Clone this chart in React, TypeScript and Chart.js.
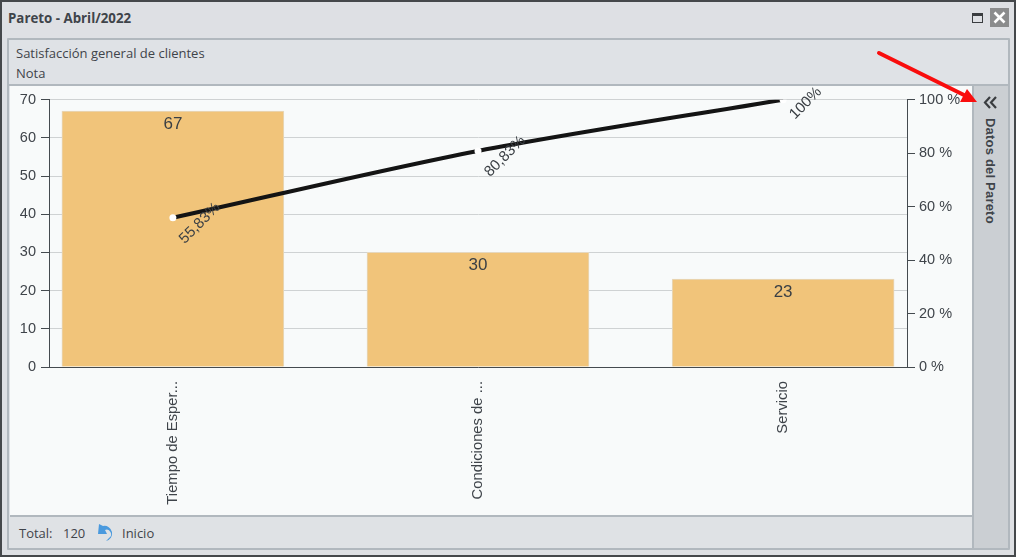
import React, { useEffect, useRef } from "react";
import { Chart, registerables } from "chart.js";

Chart.register(...registerables);

const categories = ["Tiempo de Esper...", "Condiciones de ...", "Servicio"];
const counts = [67, 30, 23];
const cumulative = [55.83, 80.83, 100];
const cumulativeLabels = ["55,83%", "80,83%", "100%"];
const titleText = "Pareto - Abril/2022";
const subtitleText = "Satisfacción general de clientes";
const noteText = "Nota";
const sideText = "Datos del Pareto";
const totalValue = "120";

const AXIS = "#444a4f";
const TEXT = "#3f444a";
const TICK_FONT = { family: "'Liberation Sans', Arial, sans-serif", size: 14.5 };

const labelsPlugin = {
  id: "paretoLabels",
  afterDatasetsDraw(chart: any) {
    const { ctx } = chart;
    ctx.save();
    ctx.fillStyle = "#3a3f44";
    ctx.font = "17px 'Liberation Sans', Arial, sans-serif";
    ctx.textAlign = "center";
    ctx.textBaseline = "middle";
    chart.getDatasetMeta(1).data.forEach((bar: any, i: number) => {
      ctx.fillText(String(counts[i]), bar.x, bar.y + 13);
    });
    ctx.font = "15px 'Liberation Sans', Arial, sans-serif";
    ctx.textAlign = "left";
    chart.getDatasetMeta(0).data.forEach((pt: any, i: number) => {
      const shrink = 56 - ctx.measureText(cumulativeLabels[i]).width;
      ctx.save();
      ctx.translate(pt.x + 9, pt.y + 26 - shrink * 0.5);
      ctx.rotate(-Math.PI / 4);
      ctx.fillText(cumulativeLabels[i], 0, 0);
      ctx.restore();
    });
    ctx.restore();
  },
};

const box = (style: React.CSSProperties): React.CSSProperties => ({ position: "absolute", boxSizing: "border-box", ...style });
const uiFont = "'Open Sans', 'Noto Sans', sans-serif";

export default function App() {
  const ref = useRef<HTMLCanvasElement>(null);

  useEffect(() => {
    const chart = new Chart(ref.current!, {
      type: "bar",
      data: {
        datasets: [
          {
            type: "line",
            data: cumulative.map((y, x) => ({ x, y })),
            yAxisID: "y1",
            borderColor: "#141414",
            borderWidth: 4,
            tension: 0.3,
            pointRadius: 3.5,
            pointBorderWidth: 0,
            pointBackgroundColor: "#ffffff",
            order: 0,
          } as any,
          {
            type: "bar",
            data: counts.map((y, x) => ({ x, y })),
            yAxisID: "y",
            backgroundColor: "#f1c47a",
            borderColor: "#e6d8bf",
            borderWidth: 1,
            barThickness: 222,
            order: 1,
          } as any,
        ],
      },
      options: {
        responsive: false,
        animation: false,
        layout: { padding: { top: 13 } },
        plugins: { legend: { display: false }, tooltip: { enabled: false } },
        scales: {
          x: {
            type: "linear",
            offset: false,
            min: -0.406,
            max: 2.406,
            afterBuildTicks: (s: any) => { s.ticks = categories.map((_, value) => ({ value })); },
            grid: { display: true, offset: false, drawOnChartArea: false, drawTicks: false, color: "transparent" },
            border: { color: AXIS, width: 1 },
            ticks: {
              minRotation: 90,
              maxRotation: 90,
              autoSkip: false,
              padding: 14,
              color: TEXT,
              font: { ...TICK_FONT, size: 14.8 },
              callback: (v: any) => categories[v],
            },
            afterFit: (s: any) => { s.height = 148; },
          },
          y: {
            min: 0,
            max: 70,
            grid: { color: "#cfd2d3", tickColor: AXIS, tickLength: 8, lineWidth: 1 },
            border: { color: AXIS, width: 1 },
            ticks: { stepSize: 10, padding: 5, color: TEXT, font: TICK_FONT },
            afterFit: (s: any) => { s.width = 39; },
          },
          y1: {
            position: "right",
            min: 0,
            max: 100,
            grid: { drawOnChartArea: false, tickColor: AXIS, tickLength: 8 },
            border: { color: AXIS, width: 1 },
            ticks: { stepSize: 20, padding: 4, color: TEXT, font: TICK_FONT, callback: (v: any) => `${v} %` },
            afterFit: (s: any) => { s.width = 65; },
          },
        },
      } as any,
      plugins: [labelsPlugin],
    });
    return () => chart.destroy();
  }, []);

  return (
    <div style={box({ position: "fixed", left: 0, top: 0, width: 1016, height: 557, background: "#dee0e4", border: "2px solid #45484b", fontFamily: uiFont, color: TEXT, overflow: "hidden" })}>
      <div style={box({ left: 6, top: 7, fontSize: 13.3, fontWeight: 700, lineHeight: "18px", whiteSpace: "nowrap" })}>{titleText}</div>
      <div style={box({ left: 970, top: 11, width: 11, height: 10, border: "1.5px solid #3a3d40", borderTopWidth: 3 })} />
      <div style={box({ left: 988, top: 6, width: 19, height: 19, background: "#8b8c8d" })}>
        <svg width="19" height="19" style={{ display: "block" }}><path d="M4.5 4.5 L14.5 14.5 M14.5 4.5 L4.5 14.5" stroke="#fff" strokeWidth="2.6" /></svg>
      </div>

      <div style={box({ left: 5, top: 36, width: 1003, height: 512, background: "#dfe2e6", border: "2px solid #b1b8be", borderRadius: 1 })} />
      <div style={box({ left: 14, top: 42, fontSize: 13, lineHeight: "18px", whiteSpace: "nowrap" })}>{subtitleText}</div>
      <div style={box({ left: 14, top: 62, fontSize: 13, lineHeight: "18px" })}>{noteText}</div>

      <div style={box({ left: 7, top: 82, width: 999, height: 2, background: "#b1b8be" })} />
      <div style={box({ left: 8, top: 84, width: 962, height: 429, background: "#f8fafa" })}>
        <canvas ref={ref} width={962} height={429} style={{ display: "block" }} />
      </div>
      <div style={box({ left: 8, top: 513, width: 962, height: 33, background: "#dfe2e5", borderTop: "2px solid #b1b8be" })} />
      <div style={box({ left: 17, top: 522, fontSize: 13, lineHeight: "18px", whiteSpace: "nowrap" })}>Total:</div>
      <div style={box({ left: 61, top: 522, fontSize: 13, lineHeight: "18px" })}>{totalValue}</div>
      <svg style={box({ left: 95, top: 521 })} width="20" height="20">
        <path d="M6 3 L2 1 L1 11 L10 11 L8 7 A4.5 4.5 0 0 1 12 15 L9 18 A7.5 7.5 0 0 0 6 3 Z" fill="#4a9ade" />
      </svg>
      <div style={box({ left: 120, top: 522, fontSize: 13, lineHeight: "18px" })}>Inicio</div>

      <div style={box({ left: 970, top: 84, width: 36, height: 462, background: "#cbcfd3", borderLeft: "2px solid #b1b8be" })} />
      <svg style={box({ left: 981, top: 94 })} width="14" height="14">
        <path d="M7 1 L2 6.5 L7 12 M13 1 L8 6.5 L13 12" fill="none" stroke="#3a3d40" strokeWidth="2.2" />
      </svg>
      <div style={box({ left: 979, top: 116, writingMode: "vertical-rl", fontSize: 13, fontWeight: 700, lineHeight: "18px", letterSpacing: 0.2, whiteSpace: "nowrap", fontFamily: "'Liberation Sans', Arial, sans-serif" })}>{sideText}</div>

      <svg style={box({ left: -2, top: -2, pointerEvents: "none" })} width="1016" height="557">
        <path d="M879 53 L966 96" stroke="#f90d0d" strokeWidth="4" strokeLinecap="round" />
        <path d="M977 102 L960 102 L967 89 Z" fill="#f90d0d" />
      </svg>
    </div>
  );
}
